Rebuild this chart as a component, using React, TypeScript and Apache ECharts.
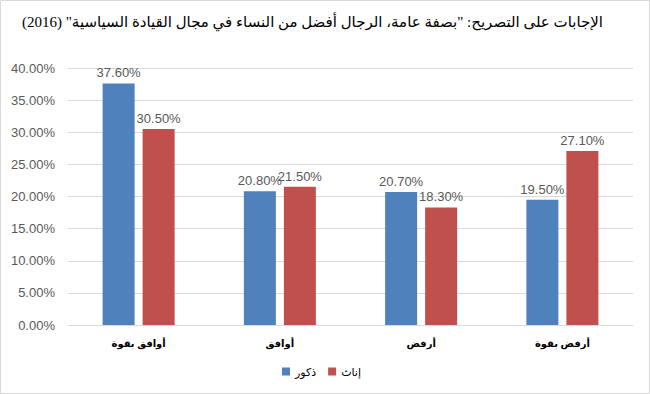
import React, { useEffect, useRef } from "react";
import * as echarts from "echarts";

const categories = ["أوافق بقوة", "أوافق", "أرفض", "أرفض بقوة"];
const seriesNames = ["ذكور", "إناث"];
const maleValues = [37.6, 20.8, 20.7, 19.5];
const femaleValues = [30.5, 21.5, 18.3, 27.1];
const titleText = '\u202Bالإجابات على التصريح: "بصفة عامة، الرجال أفضل من النساء في مجال القيادة السياسية" (2016)\u202C';

const FONT = "'Liberation Sans', 'DejaVu Sans', Arial, sans-serif";
const SERIF = "'Liberation Serif', 'DejaVu Sans', serif";

export default function App() {
  const ref = useRef<HTMLDivElement>(null);
  useEffect(() => {
    if (!ref.current) return;
    const chart = echarts.init(ref.current, null, { renderer: "svg" });
    const label = {
      show: true,
      position: "top",
      distance: 4,
      color: "#595959",
      fontSize: 13,
      fontFamily: FONT,
      formatter: (p: any) => p.value.toFixed(2) + "%",
    };
    chart.setOption({
      animation: false,
      backgroundColor: "#ffffff",
      title: {
        text: titleText,
        right: 42,
        top: 9,
        textStyle: { fontSize: 15, fontWeight: "normal", color: "#000000", fontFamily: SERIF },
      },
      graphic: [
        {
          type: "rect",
          shape: { x: 0.5, y: 0.5, width: 649, height: 393 },
          style: { fill: "none", stroke: "#d9d9d9", lineWidth: 1 },
          silent: true,
        },
      ],
      legend: {
        data: seriesNames,
        bottom: 12,
        left: 277,
        itemWidth: 8,
        itemHeight: 8,
        itemGap: 12,
        icon: "rect",
        textStyle: { fontSize: 11, color: "#000000", fontFamily: SERIF },
      },
      grid: { left: 68, right: 17, top: 68, bottom: 69, containLabel: false },
      xAxis: {
        type: "category",
        data: categories,
        axisLine: { lineStyle: { color: "#d9d9d9" } },
        axisTick: { show: false },
        axisLabel: { color: "#000000", fontSize: 10, fontWeight: "bold", margin: 13, fontFamily: SERIF },
      },
      yAxis: {
        type: "value",
        min: 0,
        max: 40,
        interval: 5,
        axisLine: { show: false },
        axisTick: { show: false },
        splitLine: { lineStyle: { color: "#d9d9d9" } },
        axisLabel: {
          color: "#595959",
          fontSize: 13,
          margin: 13,
          fontFamily: FONT,
          formatter: (v: number) => v.toFixed(2) + "%",
        },
      },
      series: [
        {
          name: seriesNames[0],
          type: "bar",
          data: maleValues,
          barWidth: 32,
          barGap: "25%",
          itemStyle: { color: "#4F81BD" },
          label,
        },
        {
          name: seriesNames[1],
          type: "bar",
          data: femaleValues,
          barWidth: 32,
          barGap: "25%",
          itemStyle: { color: "#C0504D" },
          label,
        },
      ],
    });
    return () => chart.dispose();
  }, []);
  return (
    <div
      ref={ref}
      style={{ position: "fixed", left: 0, top: 0, width: 650, height: 394 }}
    />
  );
}
